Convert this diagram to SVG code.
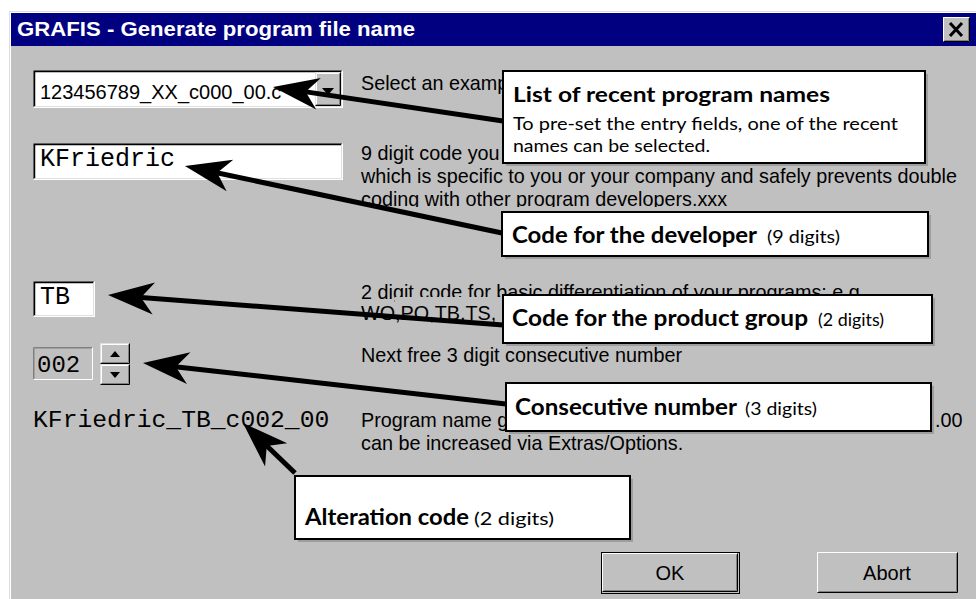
<svg xmlns="http://www.w3.org/2000/svg" width="976" height="599" viewBox="0 0 976 599">
<style>
.lbl{font-family:"Liberation Sans",Arial,sans-serif;font-size:19.8px;fill:#000}
.mono{font-family:"Liberation Mono","Courier New",monospace;fill:#000}
.cb{font-family:Lato,"Open Sans",sans-serif;font-weight:bold;fill:#000}
.cr{font-family:Lato,"Open Sans",sans-serif;fill:#000}
.box{fill:#fff;stroke:#000;stroke-width:2}
.shadow{fill:#000;opacity:0.18}
.arrow{stroke:#000;stroke-width:5;fill:none;marker-end:url(#ah)}
.btxt{font-family:"Liberation Sans",Arial,sans-serif;font-size:20px;fill:#000;text-anchor:middle}
</style>
<defs>
<marker id="ah" markerUnits="userSpaceOnUse" viewBox="-20 -18 56 36" refX="0" refY="0" markerWidth="56" markerHeight="36" orient="auto">
<path d="M30,0 L-16,-16 L-3,0 L-16,16 Z" fill="#000"/>
</marker>
<clipPath id="clipCoding"><rect x="355" y="185" width="600" height="22"/></clipPath>
<clipPath id="clipWO"><rect x="355" y="306" width="150" height="20"/></clipPath>
<clipPath id="clipDiff"><rect x="355" y="275" width="40" height="30"/><rect x="395" y="275" width="560" height="22"/></clipPath>
</defs>

<!-- window frame -->
<rect x="0" y="0" width="976" height="599" fill="#fff"/>
<rect x="9" y="11" width="967" height="588" fill="#dfdfdf"/>
<rect x="10" y="12" width="966" height="587" fill="#fff"/>
<rect x="11" y="13" width="965" height="586" fill="#c0c0c0"/>

<g id="titlebar">
<rect x="11" y="13" width="965" height="33" fill="#000080"/>
<text x="17" y="36" font-family="Liberation Sans,Arial,sans-serif" font-size="20" font-weight="bold" fill="#fff" textLength="398" lengthAdjust="spacingAndGlyphs">GRAFIS - Generate program file name</text>
<g id="closebtn">
<rect x="943" y="17" width="27" height="25" fill="#c0c0c0"/>
<polyline points="943.5,41.5 943.5,17.5 969.5,17.5" fill="none" stroke="#fff"/>
<polyline points="943.5,41.5 969.5,41.5 969.5,17.5" fill="none" stroke="#000"/>
<polyline points="944.5,40.5 968.5,40.5 968.5,18.5" fill="none" stroke="#808080"/>
<path d="M950,23 L962,36 M962,23 L950,36" stroke="#000" stroke-width="3"/>
</g>
</g>

<g id="combo">
<rect x="33" y="70" width="310" height="38" fill="#fff"/>
<polyline points="33.5,107.5 33.5,70.5 342.5,70.5" fill="none" stroke="#808080"/>
<polyline points="33.5,107.5 342.5,107.5 342.5,70.5" fill="none" stroke="#fff"/>
<polyline points="34.5,106.5 34.5,71.5 341.5,71.5" fill="none" stroke="#000" stroke-width="1.5"/>
<polyline points="34.5,106.5 341.5,106.5 341.5,71.5" fill="none" stroke="#dfdfdf"/>
<text x="40" y="99" font-family="Liberation Sans,Arial,sans-serif" font-size="20" fill="#000">123456789_XX_c000_00.c</text>
<g id="dropbtn">
<rect x="315" y="72" width="26" height="34" fill="#c0c0c0"/>
<polyline points="315.5,105.5 315.5,72.5 340.5,72.5" fill="none" stroke="#dfdfdf"/>
<polyline points="315.5,105.5 340.5,105.5 340.5,72.5" fill="none" stroke="#000"/>
<polyline points="316.5,104.5 316.5,73.5 339.5,73.5" fill="none" stroke="#fff"/>
<polyline points="316.5,104.5 339.5,104.5 339.5,73.5" fill="none" stroke="#808080"/>
<path d="M322,88 L334,88 L328,95 Z" fill="#000"/>
</g>
</g>

<g id="field-developer">
<rect x="33" y="143" width="310" height="37" fill="#fff"/>
<polyline points="33.5,179.5 33.5,143.5 342.5,143.5" fill="none" stroke="#808080"/>
<polyline points="33.5,179.5 342.5,179.5 342.5,143.5" fill="none" stroke="#fff"/>
<polyline points="34.5,178.5 34.5,144.5 341.5,144.5" fill="none" stroke="#000" stroke-width="1.5"/>
<polyline points="34.5,178.5 341.5,178.5 341.5,144.5" fill="none" stroke="#dfdfdf"/>
<text class="mono" x="40" y="166" font-size="25">KFriedric</text>
</g>

<g id="field-group">
<rect x="33" y="281" width="62" height="36" fill="#fff"/>
<polyline points="33.5,316.5 33.5,281.5 94.5,281.5" fill="none" stroke="#808080"/>
<polyline points="33.5,316.5 94.5,316.5 94.5,281.5" fill="none" stroke="#fff"/>
<polyline points="34.5,315.5 34.5,282.5 93.5,282.5" fill="none" stroke="#000" stroke-width="1.5"/>
<polyline points="34.5,315.5 93.5,315.5 93.5,282.5" fill="none" stroke="#dfdfdf"/>
<text class="mono" x="40" y="304" font-size="25">TB</text>
</g>

<g id="field-number">
<rect x="33" y="347" width="60" height="33" fill="#c0c0c0"/>
<polyline points="33.5,379.5 33.5,347.5 92.5,347.5" fill="none" stroke="#808080"/>
<polyline points="33.5,379.5 92.5,379.5 92.5,347.5" fill="none" stroke="#fff"/>
<polyline points="34.5,378.5 34.5,348.5 91.5,348.5" fill="none" stroke="#a0a0a0"/>
<text class="mono" x="37" y="372" font-size="24" fill="#222">002</text>
<g id="spinner">
<rect x="100" y="343" width="30" height="21" fill="#c0c0c0"/>
<polyline points="100.5,363.5 100.5,343.5 129.5,343.5" fill="none" stroke="#dfdfdf"/>
<polyline points="100.5,363.5 129.5,363.5 129.5,343.5" fill="none" stroke="#000"/>
<polyline points="101.5,362.5 101.5,344.5 128.5,344.5" fill="none" stroke="#fff"/>
<polyline points="101.5,362.5 128.5,362.5 128.5,344.5" fill="none" stroke="#808080"/>
<path d="M110,357 L120,357 L115,351 Z" fill="#000"/>
<rect x="100" y="364" width="30" height="21" fill="#c0c0c0"/>
<polyline points="100.5,384.5 100.5,364.5 129.5,364.5" fill="none" stroke="#dfdfdf"/>
<polyline points="100.5,384.5 129.5,384.5 129.5,364.5" fill="none" stroke="#000"/>
<polyline points="101.5,383.5 101.5,365.5 128.5,365.5" fill="none" stroke="#fff"/>
<polyline points="101.5,383.5 128.5,383.5 128.5,365.5" fill="none" stroke="#808080"/>
<path d="M110,372 L120,372 L115,378 Z" fill="#000"/>
</g>
</g>

<g id="result">
<text class="mono" x="33" y="427" font-size="24.7">KFriedric_TB_c002_00</text>
</g>

<g id="labels">
<text class="lbl" x="361" y="90">Select an examp</text>
<text class="lbl" x="361" y="160">9 digit code you</text>
<text class="lbl" x="361" y="183">which is specific to you or your company and safely prevents double</text>
<text class="lbl" x="361" y="206" clip-path="url(#clipCoding)">coding with other program developers.xxx</text>
<text class="lbl" x="361" y="299" clip-path="url(#clipDiff)">2 digit code for basic differentiation of your programs: e.g.</text>
<text class="lbl" x="361" y="320" clip-path="url(#clipWO)">WO,PO,TB,TS,</text>
<text class="lbl" x="361" y="362">Next free 3 digit consecutive number</text>
<text class="lbl" x="361" y="427">Program name g</text>
<text class="lbl" x="935" y="427">.00</text>
<text class="lbl" x="361" y="450">can be increased via Extras/Options.</text>
</g>

<g id="btn-ok">
<rect x="601" y="552" width="139" height="42" fill="#000"/>
<rect x="602" y="553" width="137" height="40" fill="#c0c0c0"/>
<polyline points="602.5,591.5 602.5,553.5 737.5,553.5" fill="none" stroke="#fff"/>
<polyline points="602.5,591.5 737.5,591.5 737.5,553.5" fill="none" stroke="#000"/>
<polyline points="603.5,590.5 736.5,590.5 736.5,554.5" fill="none" stroke="#808080"/>
<text class="btxt" x="670" y="580">OK</text>
</g>
<g id="btn-abort">
<rect x="817" y="552" width="141" height="41" fill="#c0c0c0"/>
<polyline points="817.5,592.5 817.5,552.5 957.5,552.5" fill="none" stroke="#fff"/>
<polyline points="817.5,592.5 957.5,592.5 957.5,552.5" fill="none" stroke="#000"/>
<polyline points="818.5,591.5 956.5,591.5 956.5,553.5" fill="none" stroke="#808080"/>
<text class="btxt" x="887" y="580">Abort</text>
</g>

<g id="connectors">
<line class="arrow" x1="503" y1="121" x2="302.7" y2="91.4"/>
<line class="arrow" x1="502" y1="233" x2="214.3" y2="172.2"/>
<line class="arrow" x1="503" y1="325" x2="137.9" y2="297.3"/>
<line class="arrow" x1="506" y1="404" x2="172.8" y2="366.4"/>
<line class="arrow" x1="295" y1="473" x2="264.6" y2="443.8"/>
</g>

<g id="callout-recent">
<rect class="shadow" x="506" y="74" width="422" height="92"/>
<rect class="box" x="503" y="71" width="422" height="92"/>
<text class="cb" x="513" y="102" font-size="20" textLength="317" lengthAdjust="spacingAndGlyphs">List of recent program names</text>
<text class="cr" x="513" y="130" font-size="17" textLength="385" lengthAdjust="spacingAndGlyphs">To pre-set the entry fields, one of the recent</text>
<text class="cr" x="513" y="152" font-size="17" textLength="197" lengthAdjust="spacingAndGlyphs">names can be selected.</text>
</g>

<g id="callout-developer">
<rect class="shadow" x="505" y="215" width="426" height="44"/>
<rect class="box" x="502" y="212" width="426" height="44"/>
<text class="cb" x="512" y="243" font-size="22" textLength="245" lengthAdjust="spacingAndGlyphs">Code for the developer</text>
<text class="cr" x="767" y="243" font-size="18" textLength="73" lengthAdjust="spacingAndGlyphs">(9 digits)</text>
</g>

<g id="callout-group">
<rect class="shadow" x="506" y="298" width="429" height="48"/>
<rect class="box" x="503" y="295" width="429" height="48"/>
<text class="cb" x="512" y="326" font-size="22" textLength="296" lengthAdjust="spacingAndGlyphs">Code for the product group</text>
<text class="cr" x="818" y="326" font-size="18" textLength="66" lengthAdjust="spacingAndGlyphs">(2 digits)</text>
</g>

<g id="callout-consecutive">
<rect class="shadow" x="509" y="386" width="425" height="48"/>
<rect class="box" x="506" y="383" width="425" height="48"/>
<text class="cb" x="515" y="415" font-size="22" textLength="222" lengthAdjust="spacingAndGlyphs">Consecutive number</text>
<text class="cr" x="745" y="415" font-size="18" textLength="72" lengthAdjust="spacingAndGlyphs">(3 digits)</text>
</g>

<g id="callout-alteration">
<rect class="shadow" x="298" y="479" width="335" height="63"/>
<rect class="box" x="295" y="476" width="335" height="63"/>
<text class="cb" x="305" y="525" font-size="22" textLength="164" lengthAdjust="spacingAndGlyphs">Alteration code</text>
<text class="cr" x="474" y="525" font-size="18" textLength="80" lengthAdjust="spacingAndGlyphs">(2 digits)</text>
</g>
</svg>
